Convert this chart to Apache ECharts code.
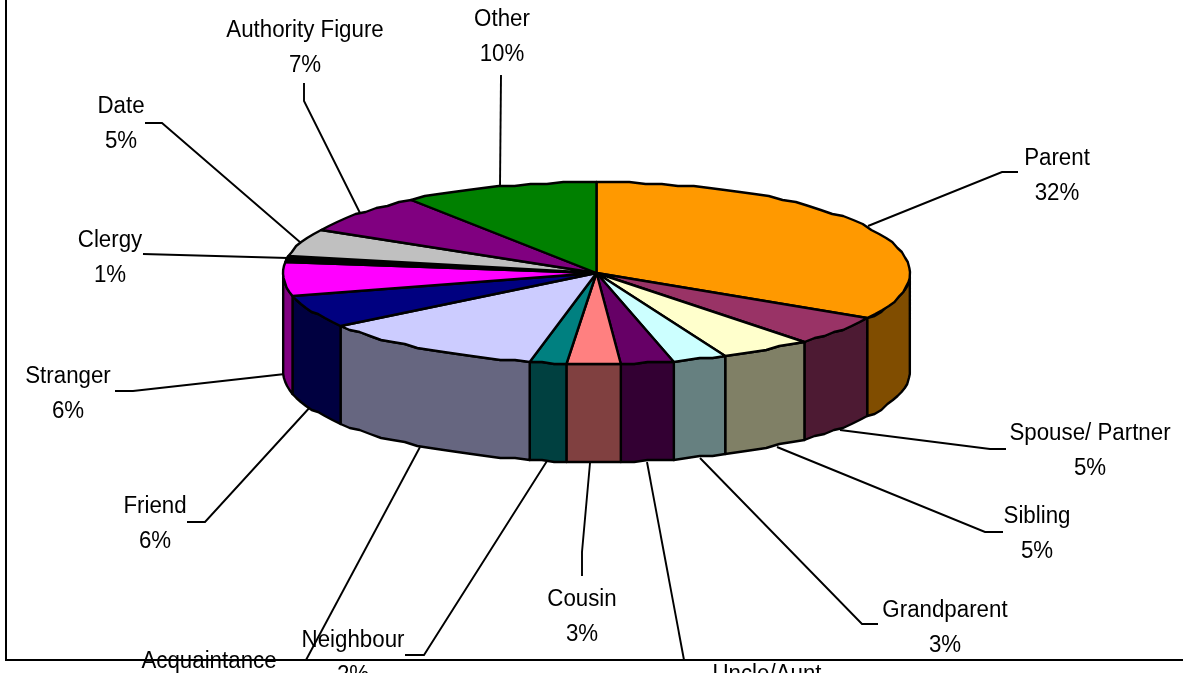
<!DOCTYPE html>
<html>
<head>
<meta charset="utf-8">
<script src="https://cdn.jsdelivr.net/npm/echarts@6/dist/echarts.min.js"></script>
<style>
  html, body { margin: 0; padding: 0; background: #fff; }
  #chart { width: 1183px; height: 673px; overflow: hidden; }
</style>
</head>
<body>
<div id="chart"></div>
<script>
const categories = ['Parent', 'Spouse/ Partner', 'Sibling', 'Grandparent', 'Uncle/Aunt', 'Cousin', 'Neighbour',
  'Acquaintance', 'Friend', 'Stranger', 'Clergy', 'Date', 'Authority Figure', 'Other'];
const percents = [32, 5, 5, 3, 3, 3, 2, 12, 6, 6, 1, 5, 7, 10];
const sliceColors = ['#ff9900', '#993366', '#ffffcc', '#ccffff', '#660066', '#ff8080', '#008080',
  '#ccccff', '#000080', '#ff00ff', '#000000', '#c0c0c0', '#800080', '#008000'];

// layout of the labels and their leader lines, same order as categories
const labelSpots = [[1057, 159], [1090, 434], [1037, 517], [945, 611], [767, 675], [582, 600], [353, 641],
  [209, 662], [155, 507], [68, 377], [110, 241], [121, 107], [305, 31], [502, 20]];
const leaderPaths = [
  [[868, 226], [1002, 172], [1018, 172]],
  [[840, 430], [990, 449], [1006, 449]],
  [[777, 447], [985, 532], [1003, 532]],
  [[700, 458], [862, 624], [878, 624]],
  [[647, 462], [684, 660]],
  [[590, 463], [582, 552], [582, 576]],
  [[547, 461], [424, 655], [405, 655]],
  [[420, 447], [306, 660]],
  [[312, 405], [205, 522], [187, 522]],
  [[285, 374], [133, 391], [115, 391]],
  [[288, 258], [143, 254]],
  [[301, 243], [162, 123], [145, 123]],
  [[360, 213], [304, 101], [304, 83]],
  [[500, 187], [501, 75]]
];

const CX = 596.5, CY = 273, RX = 313.5, RY = 91, DEPTH = 98;
const LINE_GAP = 34.5;
const RIM_GRID = 2;
const rad = d => d * Math.PI / 180;

// the 3D view pulls the slices round the rim a little, less so at the front
const viewAngle = t => t + 2 * (1 - Math.cos(rad(t))) + 2 * Math.sin(rad(t)) - 0.6 * Math.sin(rad(2 * t))
  - 1.9 * Math.exp(-Math.pow((t - 186) / 34, 2));
// the old renderer snapped the rim to a coarse grid, that gives the stepped edge
const rim = t => {
  const v = rad(viewAngle(t));
  const y = CY - RY * Math.cos(v);
  return [CX + RX * Math.sin(v), Math.round(y / RIM_GRID) * RIM_GRID];
};
const rimPoints = (a, b, dy) => {
  const pts = [];
  const n = Math.max(1, Math.ceil((b - a) / 3));
  for (let i = 0; i <= n; i++) {
    const p = rim(a + (b - a) * i / n);
    pts.push([p[0], p[1] + dy]);
  }
  return pts;
};
const darken = hex => '#' + [1, 3, 5].map(i =>
  Math.round(parseInt(hex.substr(i, 2), 16) / 2).toString(16).padStart(2, '0')).join('');

let run = 0;
const sliceData = percents.map((p, i) => {
  const row = [i, run * 3.6, (run + p) * 3.6];
  run += p;
  return row;
});
// angle in pie terms where the rim crosses the left and right extremes
const FRONT_START = 88, FRONT_END = 268;

const outline = { stroke: '#000', lineWidth: 2.4, lineJoin: 'round' };

function renderSide(params, api) {
  const a = Math.max(api.value(1), FRONT_START);
  const b = Math.min(api.value(2), FRONT_END);
  if (b <= a) return null;
  const pts = rimPoints(a, b, 0).concat(rimPoints(a, b, DEPTH).reverse());
  return { type: 'polygon', shape: { points: pts },
    style: Object.assign({ fill: darken(sliceColors[api.value(0)]) }, outline) };
}

function renderTop(params, api) {
  const pts = [[CX, CY]].concat(rimPoints(api.value(1), api.value(2), 0));
  return { type: 'polygon', shape: { points: pts },
    style: Object.assign({ fill: sliceColors[api.value(0)] }, outline) };
}

function renderLeader(params, api) {
  return { type: 'polyline', shape: { points: leaderPaths[api.value(0)] },
    style: { stroke: '#000', lineWidth: 1.9, fill: null } };
}

function labelLine(text, x, y) {
  return { type: 'text', x: x, y: y, scaleX: 0.97,
    style: { text: text, x: 0, y: 0, fill: '#000', align: 'center', verticalAlign: 'middle',
      font: '23px "Liberation Sans", Arial, sans-serif' } };
}

function renderLabel(params, api) {
  const i = api.value(0);
  const s = labelSpots[i];
  return { type: 'group', children: [
    labelLine(categories[i], s[0], s[1]),
    labelLine(percents[i] + '%', s[0], s[1] + LINE_GAP)
  ] };
}

const chart = echarts.init(document.getElementById('chart'));
chart.setOption({
  backgroundColor: '#fff',
  animation: false,
  graphic: [{
    type: 'polyline', z: 1, silent: true,
    shape: { points: [[6, 0], [6, 660], [1183, 660]] },
    style: { stroke: '#000', lineWidth: 2, fill: null }
  }],
  series: [
    { type: 'custom', name: 'leaders', coordinateSystem: 'none', z: 2, silent: true, data: sliceData, renderItem: renderLeader },
    { type: 'custom', name: 'sides', coordinateSystem: 'none', z: 3, silent: true, data: sliceData, renderItem: renderSide },
    { type: 'custom', name: 'tops', coordinateSystem: 'none', z: 4, silent: true, data: sliceData, renderItem: renderTop },
    { type: 'custom', name: 'labels', coordinateSystem: 'none', z: 5, silent: true, data: sliceData, renderItem: renderLabel }
  ]
});
</script>
</body>
</html>
